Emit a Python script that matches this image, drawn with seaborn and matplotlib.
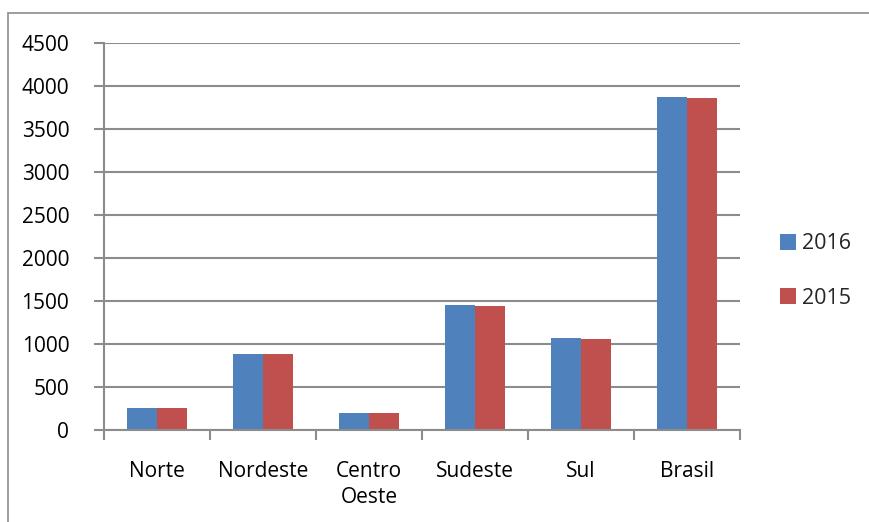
import numpy as np
import pandas as pd
import matplotlib
matplotlib.use("Agg")
import matplotlib.pyplot as plt
import seaborn as sns
from matplotlib.patches import Rectangle
from matplotlib.ticker import FixedLocator

# data
regions = ["Norte", "Nordeste", "Centro\nOeste", "Sudeste", "Sul", "Brasil"]
years = ["2016", "2015"]
vals_2016 = [261, 887, 198, 1459, 1074, 3876]
vals_2015 = [261, 887, 195, 1447, 1062, 3864]

df = pd.DataFrame({
    "region": regions * 2,
    "year": [years[0]] * len(regions) + [years[1]] * len(regions),
    "value": vals_2016 + vals_2015,
})

sns.set_theme(style="white")
plt.rcParams['font.family'] = ['Open Sans', 'DejaVu Sans']

fig = plt.figure(figsize=(8.7, 5.22), dpi=100)
ax = fig.add_axes([104/870, 1 - 430/522, 636/870, 387/522])

sns.barplot(data=df, x="region", y="value", hue="year", order=regions,
            hue_order=years, palette=["#4F81BD", "#C0504D"], width=0.57,
            saturation=1, linewidth=0, ax=ax, legend=True)

ax.set_ylim(0, 4500)
ax.set_xlim(-0.5, len(regions) - 0.5)
ax.set_yticks(np.arange(0, 4501, 500))
ax.yaxis.grid(True, color="#8c8c8c", linewidth=1.5)
ax.set_axisbelow(True)
ax.set_xlabel("")
ax.set_ylabel("")

for s in ["top", "right"]:
    ax.spines[s].set_visible(False)
for s in ["left", "bottom"]:
    ax.spines[s].set_color("#8c8c8c")
    ax.spines[s].set_linewidth(1.5)

ax.tick_params(axis="y", which="major", direction="out", length=7, width=1.5,
               color="#8c8c8c", labelsize=15, pad=18, left=True,
               labelcolor="black")
ax.tick_params(axis="x", which="major", length=0, labelsize=15, pad=22,
               labelcolor="black")
ax.xaxis.set_minor_locator(FixedLocator(np.arange(-0.5, len(regions), 1)))
ax.tick_params(axis="x", which="minor", direction="out", length=7, width=1.5,
               color="#8c8c8c", bottom=True)
for lab in ax.get_xticklabels():
    lab.set_linespacing(1.35)

ax.legend(loc="center left", bbox_to_anchor=(771/870, 1 - 271/522),
          bbox_transform=fig.transFigure, frameon=False, fontsize=15.5,
          handlelength=0.75, handleheight=0.75, handletextpad=0.3,
          labelspacing=1.55, borderaxespad=0)

fig.patches.append(Rectangle((8/870, -0.01), 1, 1 - 13/522 + 0.01,
                             transform=fig.transFigure, fill=False,
                             edgecolor="#8c8c8c", linewidth=1.2))

fig.savefig("out.png", dpi=100)
